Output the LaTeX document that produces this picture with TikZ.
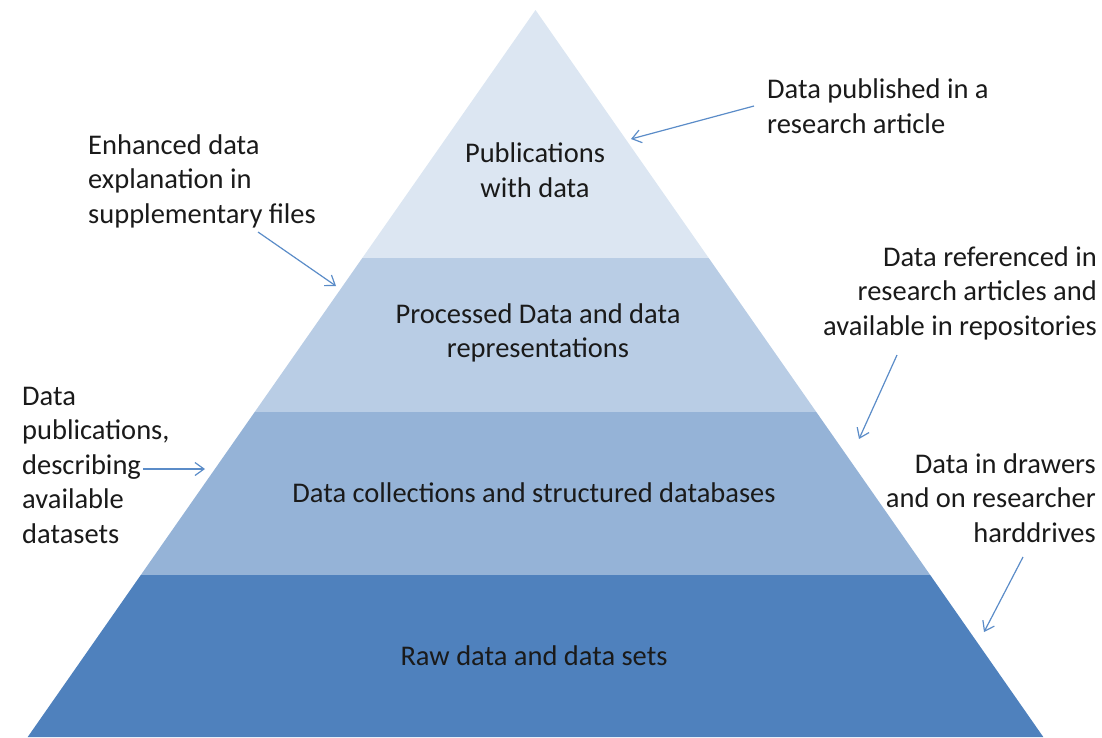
\documentclass[tikz,border=0pt]{standalone}
\usepackage{fontspec}
\setmainfont{Carlito}
\usetikzlibrary{arrows.meta}
\definecolor{lay1}{HTML}{DCE6F2}
\definecolor{lay2}{HTML}{B9CDE5}
\definecolor{lay3}{HTML}{95B3D7}
\definecolor{lay4}{HTML}{4F81BD}
\definecolor{arr}{HTML}{5B8CC8}
\definecolor{txt}{HTML}{1A1A1A}
\tikzset{
  lbl/.style={font=\fontsize{28.5}{34.5}\selectfont, text=txt, inner sep=0pt},
  pointer/.style={draw=arr, line width=1.2pt, -{Straight Barb[length=9pt,width=13pt,line width=1.2pt]}},
}
\begin{document}
\begin{tikzpicture}[x=1pt,y=-1pt]
\useasboundingbox (0,0) rectangle (1102,737);
% pyramid layers
\fill[lay1] (535.5,10) -- (708.7,258) -- (362.3,258) -- cycle;
\fill[lay2] (362.3,258) -- (708.7,258) -- (816.3,412) -- (254.7,412) -- cycle;
\fill[lay3] (254.7,412) -- (816.3,412) -- (930.2,575) -- (140.8,575) -- cycle;
\fill[lay4] (140.8,575) -- (930.2,575) -- (1043.3,737) -- (27.7,737) -- cycle;
% layer labels
\node[lbl, align=center] (pub) at (535,170) {Publications\\with data};
\node[lbl, align=center] (proc) at (538,333) {Processed Data and data\\representations};
\node[lbl, align=center] (coll) at (534,493) {Data collections and structured databases};
\node[lbl, align=center] (raw) at (534,656) {Raw data and data sets};
% side labels
\node[lbl, align=left, anchor=west] (dpub) at (767,106) {Data published in a\\research article};
\node[lbl, align=left, anchor=west] (enh) at (88,181) {Enhanced data\\explanation in\\supplementary files};
\node[lbl, align=right, anchor=east] (dref) at (1097,293) {Data referenced in\\research articles and\\available in repositories};
\node[lbl, align=left, anchor=west] (dpubs) at (22,465) {Data\\publications,\\describing\\available\\datasets};
\node[lbl, align=right, anchor=east] (drw) at (1096,498) {Data in drawers\\and on researcher\\harddrives};
% arrow endpoints
\coordinate (a1s) at (754,106);
\coordinate (a1e) at (631,139);
\coordinate (a2s) at (258,232);
\coordinate (a2e) at (336,286);
\coordinate (a3s) at (897,355);
\coordinate (a3e) at (859,439);
\coordinate (a4s) at (143,469);
\coordinate (a4e) at (205,469);
\coordinate (a5s) at (1023,557);
\coordinate (a5e) at (984,632);
\draw[pointer] (a1s) -- (a1e);
\draw[pointer] (a2s) -- (a2e);
\draw[pointer] (a3s) -- (a3e);
\draw[pointer] (a4s) -- (a4e);
\draw[pointer] (a5s) -- (a5e);
\end{tikzpicture}
\end{document}
